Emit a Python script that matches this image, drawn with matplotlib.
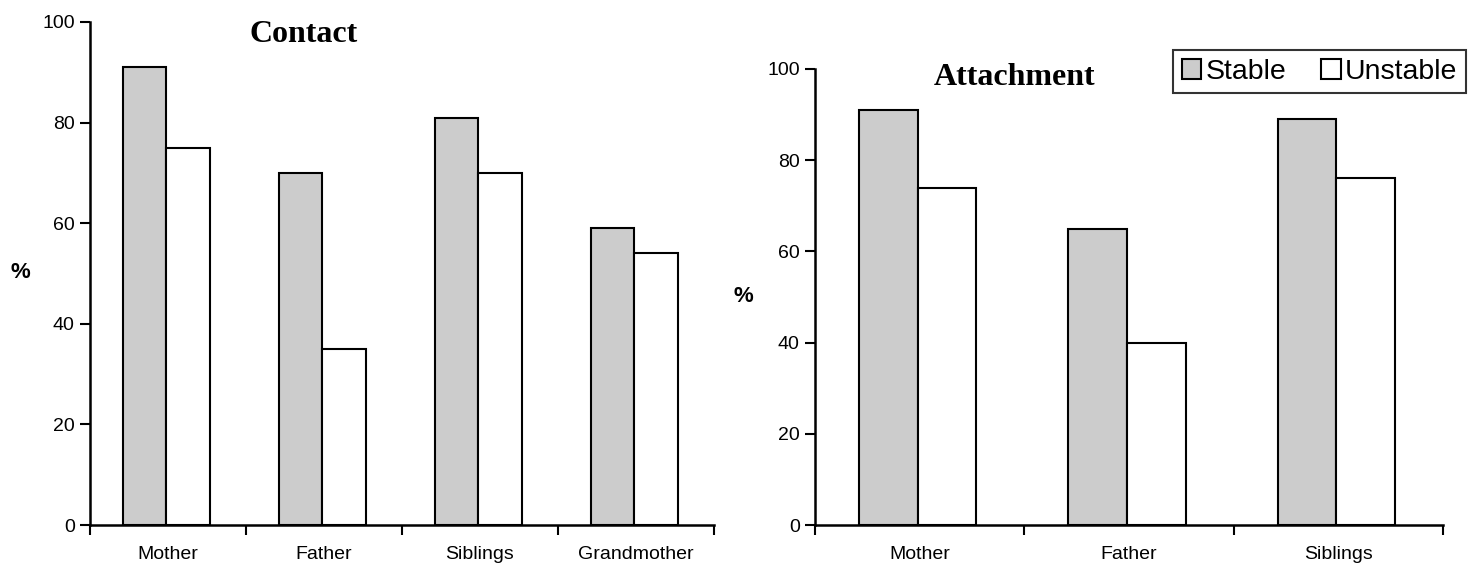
import numpy as np
import matplotlib.pyplot as plt

contact_groups = ["Mother", "Father", "Siblings", "Grandmother"]
contact_stable = [91, 70, 81, 59]
contact_unstable = [75, 35, 70, 54]

attach_groups = ["Mother", "Father", "Siblings"]
attach_stable = [91, 65, 89]
attach_unstable = [74, 40, 76]

series_names = ["Stable", "Unstable"]
yticks = [0, 20, 40, 60, 80, 100]

plt.rcParams['font.family'] = ['Liberation Sans', 'DejaVu Sans']

W, H = 1481, 567
fig = plt.figure(figsize=(W / 100, H / 100), dpi=100)


def draw_panel(ax, groups, stable, unstable):
    n = len(groups)
    x = np.arange(n)
    w = 0.28
    ax.bar(x - 0.01 - w / 2, stable, w, color="#cccccc", edgecolor="black", linewidth=1.5, label=series_names[0])
    ax.bar(x - 0.01 + w / 2, unstable, w, color="white", edgecolor="black", linewidth=1.5, label=series_names[1])
    ax.set_xlim(-0.5, n - 0.5)
    ax.set_ylim(0, 100)
    ax.set_yticks(yticks)
    # boundary ticks on the major locator, category names on the minor one
    ax.set_xticks(np.arange(n + 1) - 0.5)
    ax.set_xticklabels([])
    ax.set_xticks(x, minor=True)
    ax.set_xticklabels(groups, minor=True, fontsize=14)
    ax.tick_params(axis="x", which="minor", length=0, pad=15)
    ax.tick_params(axis="x", which="major", length=7, width=1.5, direction="out")
    ax.tick_params(axis="y", length=7, width=1.5, labelsize=14, pad=4)
    for s in ["top", "right"]:
        ax.spines[s].set_visible(False)
    for s in ["left", "bottom"]:
        ax.spines[s].set_linewidth(1.8)


ax1 = fig.add_axes([90 / W, 42 / H, 624 / W, 503 / H])
draw_panel(ax1, contact_groups, contact_stable, contact_unstable)

ax2 = fig.add_axes([815 / W, 42 / H, 628 / W, 456 / H])
draw_panel(ax2, attach_groups, attach_stable, attach_unstable)

# titles and "%" labels placed in figure pixels
fig.text(304 / W, 1 - 42 / H, "Contact", ha="center", va="baseline",
         fontsize=23, fontweight="bold", family="Liberation Serif")
fig.text(1015 / W, 1 - 85 / H, "Attachment", ha="center", va="baseline",
         fontsize=23, fontweight="bold", family="Liberation Serif")
fig.text(20 / W, 1 - 273 / H, "%", ha="center", va="center", fontsize=16, fontweight="bold")
fig.text(743 / W, 1 - 297 / H, "%", ha="center", va="center", fontsize=16, fontweight="bold")

leg = ax2.legend(loc="upper left", bbox_to_anchor=(1173 / W, 1 - 50 / H), bbox_transform=fig.transFigure,
                 ncol=2, fontsize=20.5, frameon=True, fancybox=False, handlelength=0.7, handleheight=0.7,
                 handletextpad=0.15, columnspacing=1.2, borderpad=0.3, borderaxespad=0)
leg.get_frame().set_edgecolor("black")
leg.get_frame().set_linewidth(1.5)

fig.savefig("out.png", dpi=100)
